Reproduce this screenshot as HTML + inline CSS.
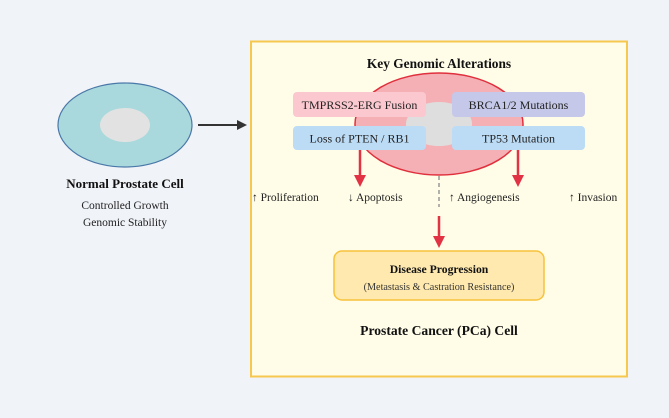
<!DOCTYPE html>
<html><head><meta charset="utf-8"><style>
html,body{margin:0;padding:0;background:#f0f3f8;}
svg{display:block;font-family:"Liberation Serif",serif;}
</style></head><body>
<svg width="669" height="418" viewBox="0 0 669 418" xmlns="http://www.w3.org/2000/svg">
<rect width="669" height="418" fill="#f0f3f8"/>
<ellipse cx="125" cy="125" rx="67" ry="42" fill="#a9d9dc" stroke="#4a78a8" stroke-width="1.2"/>
<ellipse cx="125" cy="125" rx="25" ry="17" fill="#e2e2e2"/>
<text x="125" y="188" text-anchor="middle" font-size="13" font-weight="bold" fill="#111">Normal Prostate Cell</text>
<text x="125" y="209" text-anchor="middle" font-size="11.5" fill="#222">Controlled Growth</text>
<text x="125" y="226" text-anchor="middle" font-size="11.5" fill="#222">Genomic Stability</text>
<line x1="198" y1="125" x2="238" y2="125" stroke="#333" stroke-width="2"/>
<polygon points="247,125 237,120 237,130" fill="#333"/>
<rect x="251" y="41.5" width="376" height="335" fill="#fffde8" stroke="#f7c84e" stroke-width="2"/>
<text x="439" y="68" text-anchor="middle" font-size="13.4" font-weight="bold" fill="#111">Key Genomic Alterations</text>
<ellipse cx="439" cy="124" rx="84" ry="51" fill="#f4b0b4" stroke="#e0303e" stroke-width="1.5"/>
<ellipse cx="439" cy="124" rx="33" ry="22" fill="#dedede"/>
<rect x="293" y="92" width="133" height="25" rx="4" fill="#fbc8cf"/>
<text x="359.5" y="109" text-anchor="middle" font-size="12" fill="#222">TMPRSS2-ERG Fusion</text>
<rect x="452" y="92" width="133" height="25" rx="4" fill="#c5c8e8"/>
<text x="518.5" y="109" text-anchor="middle" font-size="12" fill="#222">BRCA1/2 Mutations</text>
<rect x="293" y="126" width="133" height="24" rx="4" fill="#bcdcf6"/>
<text x="359.5" y="142.5" text-anchor="middle" font-size="12" fill="#222">Loss of PTEN / RB1</text>
<rect x="452" y="126" width="133" height="24" rx="4" fill="#bcdcf6"/>
<text x="518.5" y="142.5" text-anchor="middle" font-size="12" fill="#222">TP53 Mutation</text>
<line x1="360" y1="150" x2="360" y2="176" stroke="#e23345" stroke-width="2.5"/>
<polygon points="360,187 354,175 366,175" fill="#e23345"/>
<line x1="518" y1="150" x2="518" y2="176" stroke="#e23345" stroke-width="2.5"/>
<polygon points="518,187 512,175 524,175" fill="#e23345"/>
<g font-size="11.5" fill="#222">
<text x="252" y="201">↑ Proliferation</text>
<text x="348" y="201">↓ Apoptosis</text>
<text x="449" y="201">↑ Angiogenesis</text>
<text x="569" y="201">↑ Invasion</text>
</g>
<line x1="439" y1="176" x2="439" y2="207" stroke="#999" stroke-width="1.5" stroke-dasharray="4,3"/>
<line x1="439" y1="216" x2="439" y2="238" stroke="#e23345" stroke-width="2.5"/>
<polygon points="439,248 433,236 445,236" fill="#e23345"/>
<rect x="334" y="251" width="210" height="49" rx="8" fill="#ffe9ae" stroke="#f7c23c" stroke-width="1.5"/>
<text x="439" y="273" text-anchor="middle" font-size="11.7" font-weight="bold" fill="#111">Disease Progression</text>
<text x="439" y="290" text-anchor="middle" font-size="10.2" fill="#333">(Metastasis &amp; Castration Resistance)</text>
<text x="439" y="335" text-anchor="middle" font-size="13.6" font-weight="bold" fill="#111">Prostate Cancer (PCa) Cell</text>
</svg>
</body></html>
